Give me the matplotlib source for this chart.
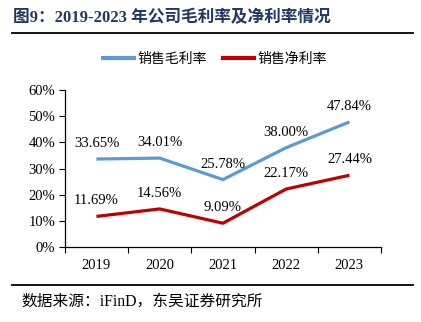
import matplotlib
matplotlib.use("Agg")
import matplotlib.pyplot as plt
from matplotlib.lines import Line2D

# data
years = ["2019", "2020", "2021", "2022", "2023"]
gross_margin = [33.65, 34.01, 25.78, 38.00, 47.84]
net_margin = [11.69, 14.56, 9.09, 22.17, 27.44]
series_names = ["销售毛利率", "销售净利率"]
yticks = [0, 10, 20, 30, 40, 50, 60]

fonts = ["Liberation Serif", "Noto Sans CJK SC"]
plt.rcParams["font.family"] = fonts

fig = plt.figure(figsize=(4.21, 3.22), dpi=100)
ax = fig.add_axes([0.154, 0.233, 0.751, 0.487])

x = list(range(len(years)))
ax.plot(x, gross_margin, color="#5B9BD5", lw=2.3, solid_capstyle="butt")
ax.plot(x, net_margin, color="#C00000", lw=2.3, solid_capstyle="butt")

for xi, v in zip(x, gross_margin):
    ax.annotate(f"{v:.2f}%", (xi, v), xytext=(0, 6.5), textcoords="offset points",
                ha="center", va="bottom", fontsize=10.5, family=fonts)
for xi, v in zip(x, net_margin):
    ax.annotate(f"{v:.2f}%", (xi, v), xytext=(0, 6.5), textcoords="offset points",
                ha="center", va="bottom", fontsize=10.5, family=fonts)

ax.set_xlim(-0.5, len(years) - 0.5)
ax.set_ylim(0, 60)
ax.set_yticks(yticks)
ax.set_yticklabels([f"{t}%" for t in yticks], fontsize=10.5)
ax.set_xticks([i - 0.5 for i in range(len(years) + 1)], minor=False)
ax.set_xticklabels([])
ax.set_xticks(x, minor=True)
ax.set_xticklabels(years, minor=True, fontsize=10.5)
ax.tick_params(axis="x", which="major", direction="out", length=4, width=0.8)
ax.tick_params(axis="x", which="minor", length=0, pad=9)
ax.tick_params(axis="y", direction="out", length=4, width=0.8, pad=3)
for s in ["top", "right"]:
    ax.spines[s].set_visible(False)
for s in ["left", "bottom"]:
    ax.spines[s].set_linewidth(0.9)

handles = [Line2D([], [], color="#5B9BD5", lw=3), Line2D([], [], color="#C00000", lw=3)]
fig.legend(handles, series_names, loc="center", bbox_to_anchor=(0.51, 0.815), ncol=2,
           frameon=False, fontsize=10, handlelength=2.2, handletextpad=0.25, columnspacing=1.2)

fig.text(0.03, 0.944, "图9：2019-2023 年公司毛利率及净利率情况", fontsize=12, fontweight="bold",
         color="#1F3864", va="center", ha="left")
fig.add_artist(Line2D([0.028, 0.981], [0.897, 0.897], color="black", lw=1.3, transform=fig.transFigure))
fig.add_artist(Line2D([0.028, 0.981], [0.115, 0.115], color="black", lw=1.3, transform=fig.transFigure))
fig.text(0.05, 0.062, "数据来源：iFinD，东吴证券研究所", fontsize=11.3, va="center", ha="left")

fig.savefig("out.png", dpi=100)
